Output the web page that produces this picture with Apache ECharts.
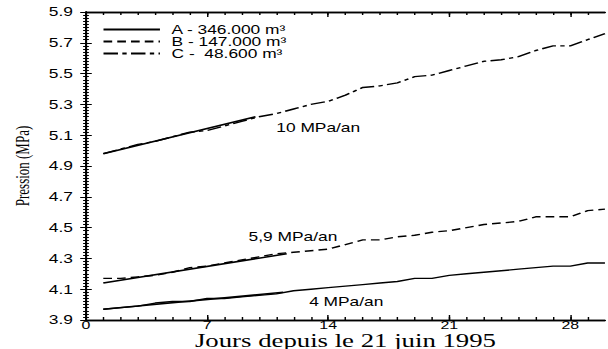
<!DOCTYPE html>
<html>
<head>
<meta charset="utf-8">
<script src="https://cdn.jsdelivr.net/npm/echarts@6/dist/echarts.min.js"></script>
<style>
  html, body { margin: 0; padding: 0; background: #fff; overflow: hidden; }
  /* the figure is laid out narrow and widened horizontally, like the printed plot */
  #chart { width: 420px; height: 349px; transform: scaleX(1.4476); transform-origin: 0 0; }
</style>
</head>
<body>
<div id="chart"></div>
<script>
// Days since 21 June 1995
const days = [1, 2, 3, 4, 5, 6, 7, 8, 9, 10, 11, 12, 13, 14, 15,
              16, 17, 18, 19, 20, 21, 22, 23, 24, 25, 26, 27, 28, 29, 30];

// Pressure (MPa) for the three cavities
const pressureA = [3.97, 3.98, 3.99, 4.01, 4.02, 4.02, 4.04, 4.04, 4.05, 4.06,
                   4.07, 4.09, 4.10, 4.11, 4.12, 4.13, 4.14, 4.15, 4.17, 4.17,
                   4.19, 4.20, 4.21, 4.22, 4.23, 4.24, 4.25, 4.25, 4.27, 4.27];
const pressureB = [4.17, 4.17, 4.18, 4.19, 4.21, 4.24, 4.25, 4.27, 4.29, 4.31,
                   4.33, 4.34, 4.35, 4.36, 4.39, 4.42, 4.42, 4.44, 4.45, 4.47,
                   4.48, 4.50, 4.52, 4.53, 4.54, 4.57, 4.57, 4.57, 4.61, 4.62];
const pressureC = [4.98, 5.01, 5.04, 5.06, 5.09, 5.12, 5.13, 5.16, 5.19, 5.22,
                   5.24, 5.27, 5.30, 5.32, 5.36, 5.41, 5.42, 5.44, 5.48, 5.49,
                   5.52, 5.55, 5.58, 5.59, 5.61, 5.65, 5.68, 5.68, 5.72, 5.76];

const seriesNames = ['A - 346.000 m³', 'B - 147.000 m³', 'C -  48.600 m³'];

// Initial pressure-rate trends: [start day, start MPa, end day, end MPa]
const trendA = [1, 3.97, 11.4, 4.08];
const trendB = [1, 4.14, 11.6, 4.33];
const trendC = [1, 4.98, 9.8, 5.22];

// Rate labels: [day, MPa, text]
const rateLabels = [
  [11.0, 5.147, '10 MPa/an'],
  [9.4, 4.44, '5,9 MPa/an'],
  [12.9, 4.02, '4 MPa/an']
];

const xMajor = [0, 7, 14, 21, 28];
const xMinor = days.slice(0, 29);

const SANS = 'Liberation Sans, Arial, sans-serif';
const SERIF = 'Liberation Serif, Times New Roman, serif';

const chart = echarts.init(document.getElementById('chart'), null, { renderer: 'svg' });

function pairs(ys) { return days.map((d, i) => [d, ys[i]]); }

function trendLine(t) {
  return {
    silent: true,
    symbol: ['none', 'arrow'],
    symbolSize: [0, 7],
    label: { show: false },
    lineStyle: { color: '#000', width: 1.6, type: 'solid' },
    emphasis: { disabled: true },
    data: [[{ coord: [t[0], t[1]] }, { coord: [t[2], t[3]] }]]
  };
}

const axisLineStyle = { lineStyle: { color: '#000', width: 1.3 } };
const tickStyle = { color: '#000', width: 1 };

const xAxisBase = {
  type: 'value', min: 0, max: 30,
  axisLine: axisLineStyle,
  splitLine: { show: false }
};

const yAxisBase = {
  type: 'value', min: 3.9, max: 5.9, interval: 0.2,
  axisLine: axisLineStyle,
  splitLine: { show: false },
  axisTick: { show: true, inside: true, length: 4, lineStyle: tickStyle },
  minorTick: { show: true, splitNumber: 10, length: 2, lineStyle: tickStyle }
};

const option = {
  animation: false,
  backgroundColor: '#fff',
  grid: { left: 59.4, right: 2.1, top: 12, bottom: 29, containLabel: false, outerBoundsMode: 'none' },
  legend: {
    orient: 'vertical',
    left: 70.5, top: 23.5, padding: 0,
    itemWidth: 39, itemHeight: 13, itemGap: 0,
    data: seriesNames,
    itemStyle: { color: 'transparent', borderColor: 'transparent', borderWidth: 0 },
    textStyle: { fontFamily: SANS, fontSize: 12, lineHeight: 12, color: '#000', padding: [0, 0, 0, 3] },
    selectedMode: false
  },
  xAxis: [
    Object.assign({}, xAxisBase, {
      position: 'bottom',
      axisTick: { show: true, inside: true, length: 3, customValues: xMinor, lineStyle: tickStyle },
      axisLabel: { show: false }
    }),
    Object.assign({}, xAxisBase, {
      position: 'bottom',
      axisTick: { show: true, inside: true, length: 5, customValues: xMajor, lineStyle: tickStyle },
      axisLabel: { show: true, customValues: xMajor, fontFamily: SANS, fontSize: 11, lineHeight: 10, color: '#000', margin: 0 },
      name: 'Jours depuis le 21 juin 1995',
      nameLocation: 'middle', nameGap: 13, nameMoveOverlap: false,
      nameTextStyle: { fontFamily: SERIF, fontSize: 18.5, lineHeight: 16, color: '#000' }
    }),
    Object.assign({}, xAxisBase, {
      position: 'top',
      axisTick: { show: true, inside: true, length: 3, customValues: xMinor, lineStyle: tickStyle },
      axisLabel: { show: false }
    }),
    Object.assign({}, xAxisBase, {
      position: 'top',
      axisTick: { show: true, inside: true, length: 5, customValues: xMajor, lineStyle: tickStyle },
      axisLabel: { show: false }
    })
  ],
  yAxis: [
    Object.assign({}, yAxisBase, {
      position: 'left',
      axisLabel: {
        show: true, fontFamily: SANS, fontSize: 12, color: '#000', margin: 9,
        formatter: v => v.toFixed(1)
      },
      name: 'Pression (MPa)',
      nameLocation: 'middle', nameGap: 37, nameRotate: 90, nameMoveOverlap: false,
      nameTextStyle: { fontFamily: SERIF, fontSize: 13, color: '#000' }
    }),
    Object.assign({}, yAxisBase, {
      position: 'right',
      axisLabel: { show: false }
    })
  ],
  series: [
    {
      name: seriesNames[0], type: 'line', xAxisIndex: 0, yAxisIndex: 0,
      data: pairs(pressureA), symbol: 'none',
      lineStyle: { color: '#000', width: 1.4, type: 'solid' },
      itemStyle: { color: '#000' },
      markLine: trendLine(trendA),
      markPoint: {
        silent: true, symbol: 'circle', symbolSize: 0,
        label: { show: true, position: 'right', distance: 0, fontFamily: SANS, fontSize: 12, color: '#000', formatter: p => p.name },
        data: rateLabels.map(r => ({ name: r[2], coord: [r[0], r[1]] }))
      }
    },
    {
      name: seriesNames[1], type: 'line', xAxisIndex: 0, yAxisIndex: 0,
      data: pairs(pressureB), symbol: 'none',
      lineStyle: { color: '#000', width: 1.4, type: [6, 3.5] },
      itemStyle: { color: '#000' },
      markLine: trendLine(trendB)
    },
    {
      name: seriesNames[2], type: 'line', xAxisIndex: 0, yAxisIndex: 0,
      data: pairs(pressureC), symbol: 'none',
      lineStyle: { color: '#000', width: 1.4, type: [10, 3, 3, 3] },
      itemStyle: { color: '#000' },
      markLine: trendLine(trendC)
    }
  ]
};

chart.setOption(option);
</script>
</body>
</html>
